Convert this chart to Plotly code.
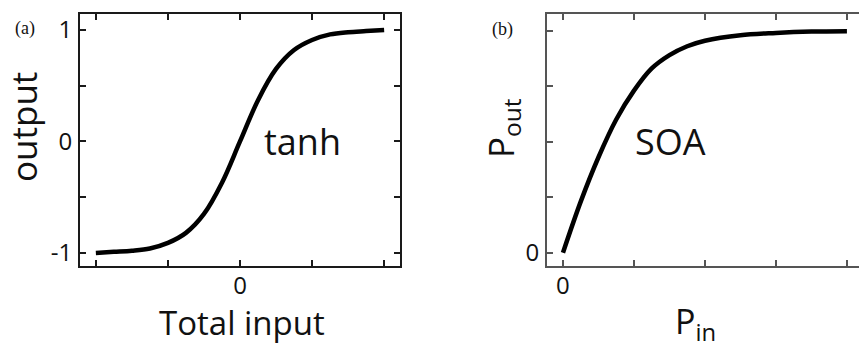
import plotly.graph_objects as go

# Panel (a): tanh transfer curve
a_x = [-2.0, -1.75, -1.5, -1.25, -1.0, -0.75, -0.5, -0.25, 0.0, 0.25, 0.5, 0.75, 1.0, 1.25, 1.5, 1.75, 2.0]
a_y = [-1.0, -0.99, -0.98, -0.96, -0.91, -0.82, -0.65, -0.37, 0.0, 0.37, 0.65, 0.82, 0.91, 0.96, 0.98, 0.99, 1.0]
a_xticks = [-2, -1, 0, 1, 2]
a_xticklabels = ["", "", "0", "", ""]
a_yticks = [-1, -0.5, 0, 0.5, 1]
a_yticklabels = ["-1", "", "0", "", "1"]

# Panel (b): SOA gain saturation curve
b_x = [0.0, 0.25, 0.5, 0.75, 1.0, 1.25, 1.5, 1.75, 2.0, 2.5, 3.0, 3.5, 4.0]
b_y = [0.0, 0.23, 0.43, 0.6, 0.73, 0.83, 0.89, 0.93, 0.955, 0.98, 0.99, 0.996, 0.998]
b_xticks = [0, 1, 2, 3, 4]
b_xticklabels = ["0", "", "", "", ""]
b_yticks = [0, 0.25, 0.5, 0.75, 1]
b_yticklabels = ["0", "", "", "", ""]

W, H = 859, 344
SANS = "Open Sans, Noto Sans, sans-serif"
SERIF = "Liberation Serif, DejaVu Serif, serif"

fig = go.Figure()
fig.add_trace(go.Scatter(x=a_x, y=a_y, mode="lines", line=dict(color="black", width=4.5, shape="spline"),
                         xaxis="x", yaxis="y", showlegend=False, hoverinfo="skip"))
fig.add_trace(go.Scatter(x=b_x, y=b_y, mode="lines", line=dict(color="black", width=4.5, shape="spline"),
                         xaxis="x2", yaxis="y2", showlegend=False, hoverinfo="skip"))

ydom = [1 - 266 / H, 1 - 14 / H]

def ax_common(color, lw):
    return dict(showline=True, linecolor=color, linewidth=lw, ticks="inside", ticklen=6,
                tickwidth=1.5, tickcolor=color, showgrid=False, zeroline=False, automargin=False,
                tickfont=dict(family=SANS, size=24, color="#111"), fixedrange=True)

ppu_b = 222.0
fig.update_layout(
    width=W, height=H, margin=dict(l=0, r=0, t=0, b=0, autoexpand=False),
    paper_bgcolor="white", plot_bgcolor="white",
    xaxis=dict(domain=[80 / W, 400 / W], range=[-2.22, 2.22], tickvals=a_xticks, ticktext=a_xticklabels,
               mirror="ticks", anchor="y", ticklabelstandoff=-3, **ax_common("#1a1a1a", 2)),
    yaxis=dict(domain=ydom, range=[-1.117, 1.143], tickvals=a_yticks, ticktext=a_yticklabels,
               mirror="ticks", anchor="x", ticklabelstandoff=1, **ax_common("#1a1a1a", 2)),
    xaxis2=dict(domain=[547 / W, 1.0], range=[-0.225, 4.17], tickvals=b_xticks, ticktext=b_xticklabels,
                mirror="ticks", anchor="y2", ticklabelstandoff=-3, **ax_common("#555555", 2)),
    yaxis2=dict(domain=ydom, range=[-(266 - 252.7) / ppu_b, 1 + (30.7 - 14) / ppu_b],
                tickvals=b_yticks, ticktext=b_yticklabels,
                mirror=False, anchor="x2", ticklabelstandoff=1, **ax_common("#555555", 2)),
)

ann = [
    dict(text="output", x=23 / W, y=1 - 127 / H, textangle=-90, font=dict(family=SANS, size=35)),
    dict(text="Total input", x=242 / W, y=1 - 322 / H, font=dict(family=SANS, size=33)),
    dict(text="P<sub>out</sub>", x=502 / W, y=1 - 128 / H, textangle=-90, font=dict(family=SANS, size=35)),
    dict(text="P<sub>in</sub>", x=695 / W, y=1 - 323 / H, font=dict(family=SANS, size=34)),
    dict(text="(a)", x=25 / W, y=1 - 28 / H, font=dict(family=SERIF, size=18)),
    dict(text="(b)", x=503 / W, y=1 - 29 / H, font=dict(family=SERIF, size=18)),
]
for a in ann:
    a.update(xref="paper", yref="paper", showarrow=False, xanchor="center", yanchor="middle")
    a["font"]["color"] = "#111"
    fig.add_annotation(**a)

fig.add_annotation(text="tanh", x=0.3, y=0.0, xref="x", yref="y", xanchor="left", yanchor="middle",
                   showarrow=False, font=dict(family=SANS, size=36, color="#111"))
fig.add_annotation(text="SOA", x=0.98, y=0.5, xref="x2", yref="y2", xanchor="left", yanchor="middle",
                   showarrow=False, font=dict(family=SANS, size=36, color="#111"))

fig.write_html("out.html", config={"displayModeBar": False},
               post_script="document.body.style.margin='0';document.body.style.overflow='hidden';")
